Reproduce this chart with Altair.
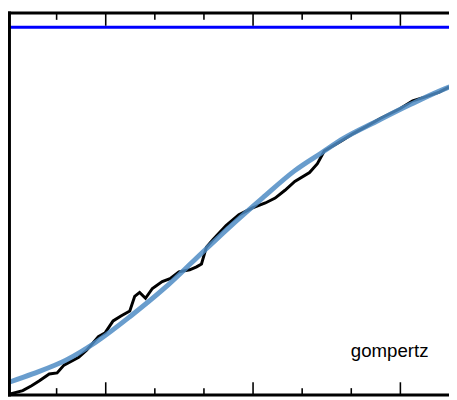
import altair as alt
import pandas as pd

# Fitted gompertz curve
fit_t = [0.0, 0.51, 1.19, 1.79, 2.51, 3.19, 3.85, 4.51, 5.19, 5.85, 6.39, 6.85, 7.51, 8.19, 8.99, 9.5]
fit_y = [3.18, 5.47, 9.03, 13.61, 20.48, 27.61, 35.50, 43.38, 51.02, 58.14, 62.72, 66.54, 70.87, 75.19, 79.77, 82.0]

# Observed noisy series
obs_t = [0.01, 0.31, 0.49, 0.65, 0.85, 1.01, 1.15, 1.45, 1.61, 1.85, 1.99, 2.15, 2.31, 2.49,
         2.59, 2.69, 2.81, 2.95, 3.15, 3.31, 3.49, 3.71, 3.85, 3.95, 4.05, 4.19, 4.45, 4.71,
         4.99, 5.25, 5.45, 5.65, 5.85, 6.15, 6.31, 6.45, 6.79, 7.05, 7.31, 7.59, 7.99, 8.25,
         8.51, 8.79, 8.99]
obs_y = [0.13, 1.15, 2.42, 3.69, 5.47, 5.73, 7.76, 9.80, 11.58, 15.14, 16.16, 19.21, 20.48, 21.76,
         25.57, 26.59, 25.06, 27.61, 29.39, 30.15, 31.93, 32.44, 33.21, 33.97, 38.30, 40.33, 43.89, 46.69,
         48.47, 49.75, 51.02, 53.05, 55.34, 57.63, 59.92, 63.23, 65.78, 67.79, 69.59, 71.63, 74.17, 76.21,
         77.23, 78.50, 79.77]

asymptote = [95.29]
major_ticks = [2, 5, 8]
minor_ticks = [1, 3, 4, 6, 7]
label_text = ["gompertz"]
label_t = [6.99]
label_y = [9.8]

W = 447.5
H = 389
MAJOR = 13
MINOR = 7

xs = alt.Scale(domain=[0.04, 8.99], nice=False, zero=False)
ys = alt.Scale(domain=[0, 98.98], nice=False, zero=False)

obs_df = pd.DataFrame({"t": obs_t, "y": obs_y})
fit_df = pd.DataFrame({"t": fit_t, "y": fit_y})
asym_df = pd.DataFrame({"y": asymptote})
major_df = pd.DataFrame({"t": major_ticks})
minor_df = pd.DataFrame({"t": minor_ticks})
label_df = pd.DataFrame({"t": label_t, "y": label_y, "text": label_text})
dummy = pd.DataFrame({"a": [0]})

X = lambda: alt.X("t:Q", scale=xs, axis=None)
Y = lambda: alt.Y("y:Q", scale=ys, axis=None)

asym = alt.Chart(asym_df).mark_rule(color="#0000ff", strokeWidth=3).encode(y=Y())

obs = alt.Chart(obs_df).mark_line(color="black", strokeWidth=3, clip=True).encode(
    x=X(), y=Y(), order="t:Q")

fit = alt.Chart(fit_df).mark_line(color="#4f8cc4", opacity=0.85, strokeWidth=5,
                                  interpolate="monotone", clip=True).encode(
    x=X(), y=Y(), order="t:Q")

tick_style = dict(color="black", strokeWidth=1.6)
maj_top = alt.Chart(major_df).mark_rule(**tick_style).encode(
    x=X(), y=alt.value(0), y2=alt.value(MAJOR))
maj_bot = alt.Chart(major_df).mark_rule(**tick_style).encode(
    x=X(), y=alt.value(H), y2=alt.value(H - MAJOR))
min_top = alt.Chart(minor_df).mark_rule(**tick_style).encode(
    x=X(), y=alt.value(0), y2=alt.value(MINOR))
min_bot = alt.Chart(minor_df).mark_rule(**tick_style).encode(
    x=X(), y=alt.value(H), y2=alt.value(H - MINOR))

frame_style = dict(color="black", strokeWidth=3, strokeCap="square")
left = alt.Chart(dummy).mark_rule(**frame_style).encode(
    x=alt.value(0), y=alt.value(0), y2=alt.value(H))
top = alt.Chart(dummy).mark_rule(**frame_style).encode(
    x=alt.value(0), x2=alt.value(W + 5), y=alt.value(0))
bottom = alt.Chart(dummy).mark_rule(**frame_style).encode(
    x=alt.value(0), x2=alt.value(W + 5), y=alt.value(H))

label = alt.Chart(label_df).mark_text(
    font="Liberation Sans", fontSize=19, color="black", align="left", baseline="alphabetic"
).encode(x=X(), y=Y(), text="text:N")

chart = alt.layer(
    asym, obs, fit, maj_top, maj_bot, min_top, min_bot, left, top, bottom, label
).properties(
    width=W, height=H,
    autosize=alt.AutoSizeParams(type="none"),
    padding={"left": 1.5, "top": 1.5, "right": 0, "bottom": 1.5},
).configure_view(stroke=None)

chart.save("out.html", embed_options={"renderer": "svg", "actions": False})
